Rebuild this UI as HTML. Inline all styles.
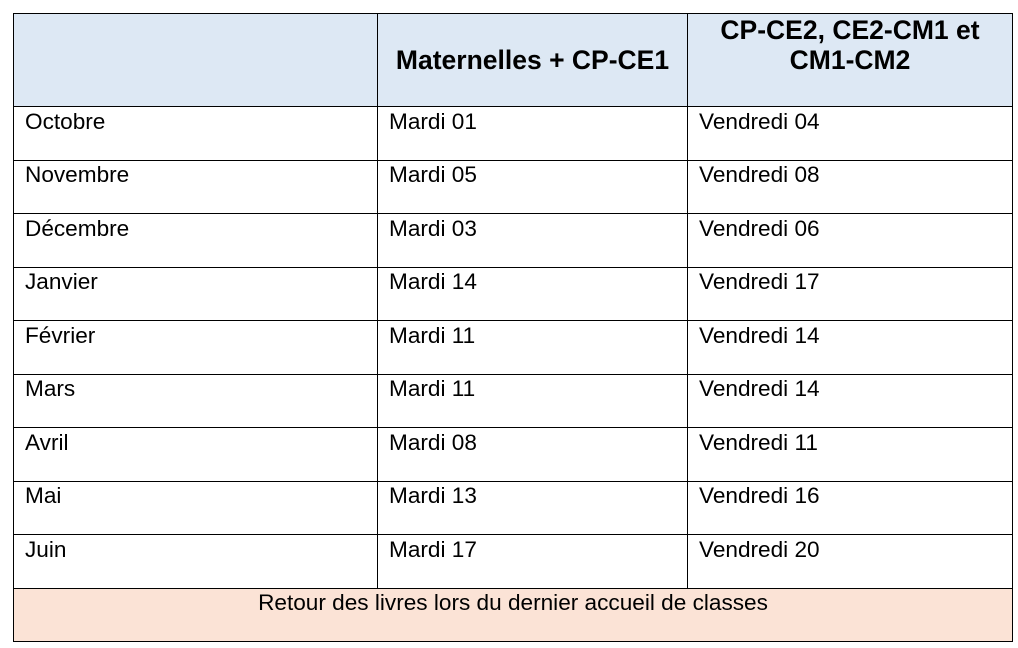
<!DOCTYPE html>
<html><head><meta charset="utf-8"><style>
body{margin:0;width:1018px;height:648px;background:#fff;position:relative;font-family:"Liberation Sans",sans-serif;color:#000;overflow:hidden}
.h{position:absolute;background:#000}
.t{position:absolute;font-size:22.6px;line-height:24px;white-space:nowrap}
.b{position:absolute;font-size:26.5px;font-weight:bold;line-height:30px;text-align:center;white-space:nowrap}
</style></head><body>
<div style="position:absolute;left:13px;top:13px;width:999px;height:93px;background:#dde8f4"></div>
<div style="position:absolute;left:13px;top:588px;width:999px;height:54px;background:#fbe3d6"></div>
<div class="h" style="left:13px;top:13px;width:1000px;height:1px"></div>
<div class="h" style="left:13px;top:106px;width:1000px;height:1px"></div>
<div class="h" style="left:13px;top:160px;width:1000px;height:1px"></div>
<div class="h" style="left:13px;top:213px;width:1000px;height:1px"></div>
<div class="h" style="left:13px;top:267px;width:1000px;height:1px"></div>
<div class="h" style="left:13px;top:320px;width:1000px;height:1px"></div>
<div class="h" style="left:13px;top:374px;width:1000px;height:1px"></div>
<div class="h" style="left:13px;top:427px;width:1000px;height:1px"></div>
<div class="h" style="left:13px;top:481px;width:1000px;height:1px"></div>
<div class="h" style="left:13px;top:534px;width:1000px;height:1px"></div>
<div class="h" style="left:13px;top:588px;width:1000px;height:1px"></div>
<div class="h" style="left:13px;top:641px;width:1000px;height:1px"></div>
<div class="h" style="left:13px;top:13px;width:1px;height:629px"></div>
<div class="h" style="left:1012px;top:13px;width:1px;height:629px"></div>
<div class="h" style="left:377px;top:13px;width:1px;height:575px"></div>
<div class="h" style="left:687px;top:13px;width:1px;height:575px"></div>
<div class="b" style="left:378px;top:45px;width:309px">Maternelles + CP-CE1</div>
<div class="b" style="left:688px;top:15px;width:324px">CP-CE2, CE2-CM1 et<br>CM1-CM2</div>
<div class="t" style="left:25px;top:110px">Octobre</div><div class="t" style="left:389px;top:110px">Mardi 01</div><div class="t" style="left:699px;top:110px">Vendredi 04</div>
<div class="t" style="left:25px;top:163px">Novembre</div><div class="t" style="left:389px;top:163px">Mardi 05</div><div class="t" style="left:699px;top:163px">Vendredi 08</div>
<div class="t" style="left:25px;top:217px">Décembre</div><div class="t" style="left:389px;top:217px">Mardi 03</div><div class="t" style="left:699px;top:217px">Vendredi 06</div>
<div class="t" style="left:25px;top:270px">Janvier</div><div class="t" style="left:389px;top:270px">Mardi 14</div><div class="t" style="left:699px;top:270px">Vendredi 17</div>
<div class="t" style="left:25px;top:324px">Février</div><div class="t" style="left:389px;top:324px">Mardi 11</div><div class="t" style="left:699px;top:324px">Vendredi 14</div>
<div class="t" style="left:25px;top:377px">Mars</div><div class="t" style="left:389px;top:377px">Mardi 11</div><div class="t" style="left:699px;top:377px">Vendredi 14</div>
<div class="t" style="left:25px;top:431px">Avril</div><div class="t" style="left:389px;top:431px">Mardi 08</div><div class="t" style="left:699px;top:431px">Vendredi 11</div>
<div class="t" style="left:25px;top:484px">Mai</div><div class="t" style="left:389px;top:484px">Mardi 13</div><div class="t" style="left:699px;top:484px">Vendredi 16</div>
<div class="t" style="left:25px;top:538px">Juin</div><div class="t" style="left:389px;top:538px">Mardi 17</div><div class="t" style="left:699px;top:538px">Vendredi 20</div>
<div class="t" style="left:13px;top:591px;width:1000px;text-align:center">Retour des livres lors du dernier accueil de classes</div>
</body></html>
